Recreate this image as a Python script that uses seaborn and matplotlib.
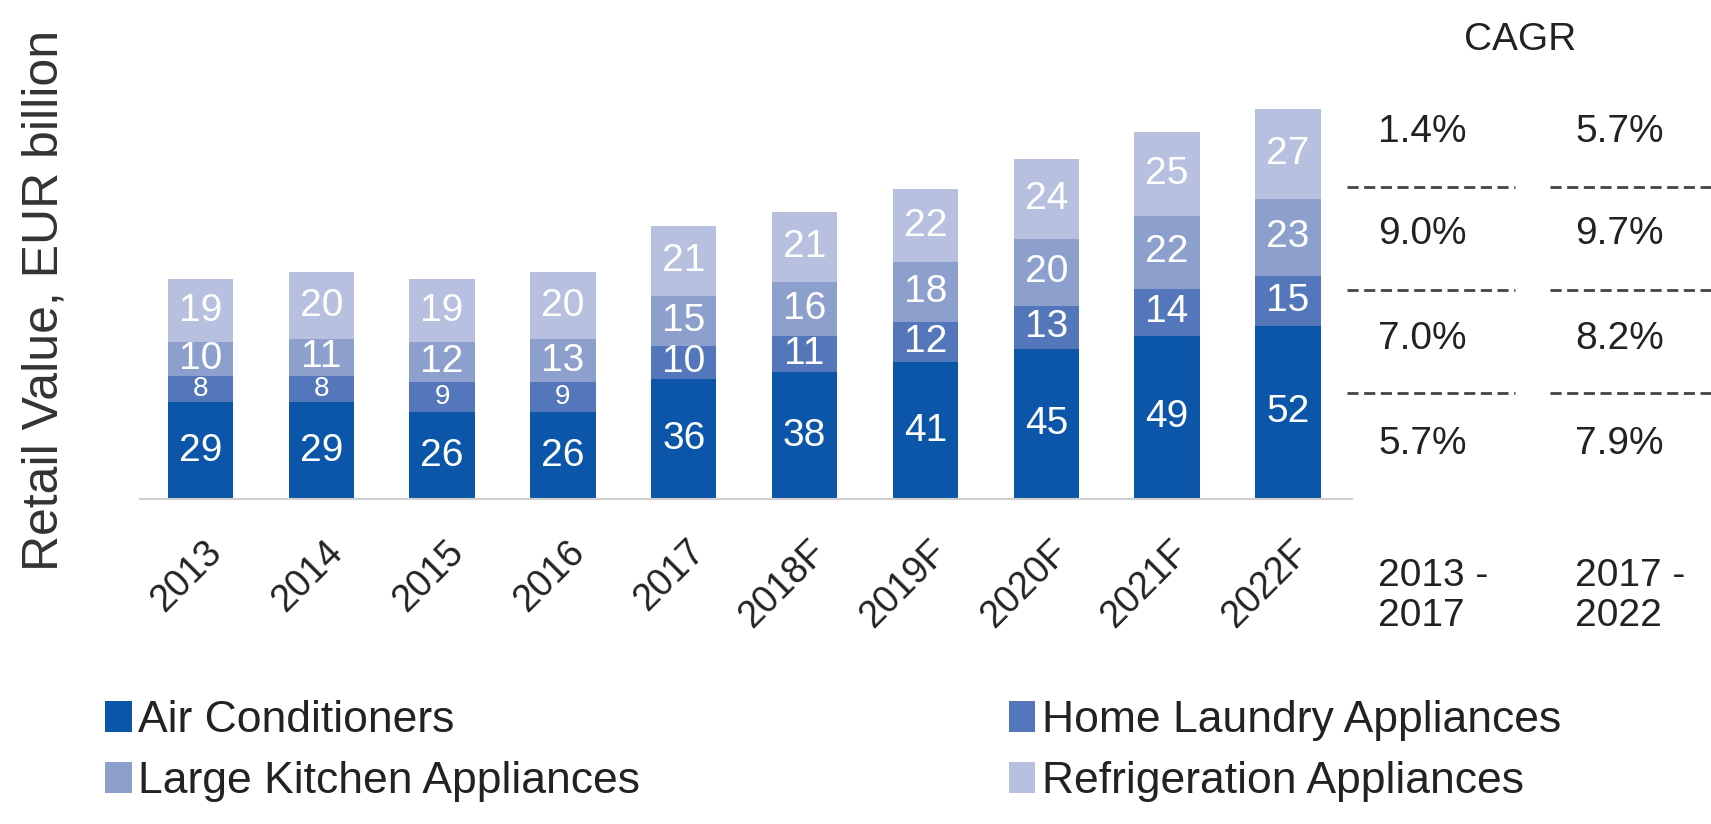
import matplotlib
matplotlib.use("Agg")
import matplotlib.pyplot as plt
import matplotlib.transforms as mtransforms
import seaborn as sns
import numpy as np
from matplotlib.patches import Patch
from matplotlib.lines import Line2D

years = ["2013", "2014", "2015", "2016", "2017", "2018F", "2019F", "2020F", "2021F", "2022F"]
air_conditioners = [29, 29, 26, 26, 36, 38, 41, 45, 49, 52]
home_laundry = [8, 8, 9, 9, 10, 11, 12, 13, 14, 15]
large_kitchen = [10, 11, 12, 13, 15, 16, 18, 20, 22, 23]
refrigeration = [19, 20, 19, 20, 21, 21, 22, 24, 25, 27]

series_names = ["Air Conditioners", "Home Laundry Appliances",
                "Large Kitchen Appliances", "Refrigeration Appliances"]
series_colors = ["#0b56a8", "#5476bb", "#8d9fcc", "#b7c0de"]

cagr_periods = ["2013 -\n2017", "2017 -\n2022"]
# rows top to bottom: refrigeration, large kitchen, home laundry, air conditioners
cagr_2013_2017 = ["1.4%", "9.0%", "7.0%", "5.7%"]
cagr_2017_2022 = ["5.7%", "9.7%", "8.2%", "7.9%"]

sns.set_theme(style="white")
plt.rcParams["font.family"] = ["Liberation Sans", "DejaVu Sans"]

W, H = 1711, 824
fig = plt.figure(figsize=(W / 100, H / 100), dpi=100)
fig.patch.set_facecolor("white")
ax = fig.add_axes([140 / W, 325 / H, 1212 / W, 400 / H])

# stacked bars: draw cumulative totals from the top layer down
layers = [air_conditioners, home_laundry, large_kitchen, refrigeration]
cum = np.cumsum(np.array(layers), axis=0)
for k in range(3, -1, -1):
    sns.barplot(x=years, y=cum[k], color=series_colors[k], saturation=1,
                width=0.54, ax=ax, order=years, linewidth=0, edgecolor="none")

# value labels in each segment
for i in range(len(years)):
    bottom = 0
    for k in range(4):
        v = layers[k][i]
        fs = 28 if v >= 10 else 20
        ax.text(i, bottom + v / 2, str(v), ha="center", va="center", color="white",
                fontsize=fs)
        bottom += v

ax.set_xlim(-0.5, 9.53)
ax.set_ylim(0, 120)
ax.set_yticks([])
ax.set_ylabel("")
ax.set_xlabel("")
for s in ["left", "top", "right"]:
    ax.spines[s].set_visible(False)
ax.spines["bottom"].set_color("#cfcfcf")
ax.spines["bottom"].set_linewidth(1.5)
ax.set_xticks(range(len(years)))
ax.set_xticklabels(years, rotation=45, ha="right", va="top",
                   rotation_mode="anchor", fontsize=27, color="#222222")
ax.tick_params(axis="x", length=0, pad=25)
shift = mtransforms.ScaledTranslation(3 / 100, 0, fig.dpi_scale_trans)
for lab in ax.get_xticklabels():
    lab.set_transform(lab.get_transform() + shift)
ax.patch.set_alpha(0)

fig.text(45 / W, 1 - 300 / H, "Retail Value, EUR billion", rotation=90,
         ha="center", va="center", fontsize=36, color="#333333")

# CAGR table
fig.text(1520 / W, 1 - 40 / H, "CAGR", ha="center", va="center",
         fontsize=28, color="#222222")
row_y = [132, 234, 339, 444]
col_x = [1378, 1575]
for c, vals in enumerate([cagr_2013_2017, cagr_2017_2022]):
    for r, v in enumerate(vals):
        fig.text(col_x[c] / W, 1 - row_y[r] / H, v, ha="left", va="center",
                 fontsize=28, color="#222222")
    fig.text(col_x[c] / W, 1 - 596 / H, cagr_periods[c], ha="left", va="center",
             fontsize=28, color="#222222", linespacing=1.15)
for yy in [187, 290, 393]:
    for x0, x1 in [(1347, 1515), (1550, 1711)]:
        fig.add_artist(Line2D([x0 / W, x1 / W], [1 - yy / H, 1 - yy / H],
                              transform=fig.transFigure, color="#444444",
                              lw=2, dashes=(4, 2)))

handles = [Patch(facecolor=series_colors[k], edgecolor="none") for k in [0, 2, 1, 3]]
labels = [series_names[k] for k in [0, 2, 1, 3]]
fig.legend(handles, labels, ncol=2, loc="upper left",
           bbox_to_anchor=(105 / W, 1 - 700 / H), frameon=False, fontsize=32,
           handlelength=0.6, handleheight=0.7, handletextpad=0.14,
           columnspacing=8.3, labelspacing=0.45, borderpad=0, borderaxespad=0,
           labelcolor="#222222")

fig.savefig("out.png", dpi=100, facecolor="white")
